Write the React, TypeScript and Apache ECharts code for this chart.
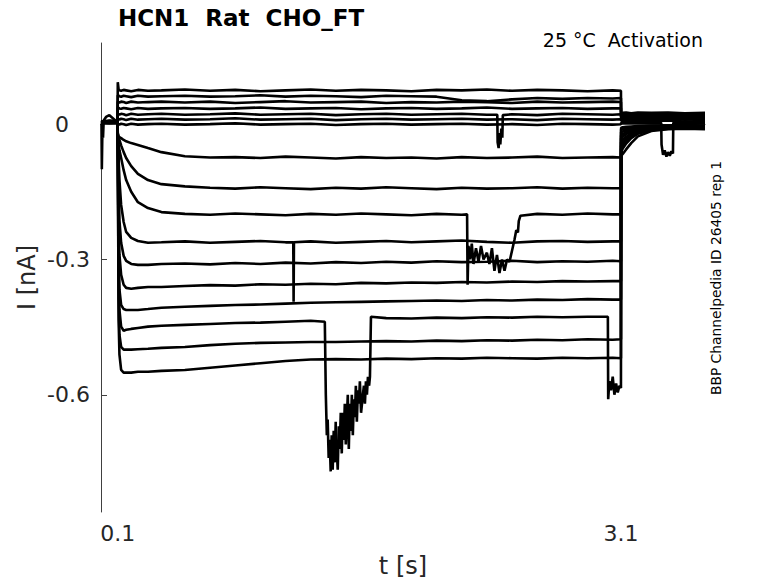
import React, { useEffect, useRef } from "react";
import * as echarts from "echarts";

// shared time grid (s)
const T = [
  0, 0.05, 0.099, 0.1, 0.105, 0.11, 0.12, 0.135, 0.15, 0.18, 0.22, 0.28, 0.36,
  0.5, 0.65, 0.8, 0.95, 1.1, 1.25, 1.4, 1.55, 1.7, 1.85, 2.0, 2.15, 2.3, 2.45,
  2.6, 2.75, 2.9, 3.05, 3.099, 3.1, 3.11, 3.13, 3.16, 3.2, 3.28, 3.38, 3.48, 3.6,
];

// current traces (nA) on the grid T
const P1 = [0.006, 0.008, 0.007,
  0.093, 0.077, 0.075, 0.074, 0.076, 0.075, 0.073, 0.076, 0.074, 0.075,
  0.077, 0.074, 0.076, 0.073, 0.075, 0.077, 0.074, 0.076, 0.075, 0.073, 0.076, 0.075, 0.077, 0.074, 0.076, 0.075, 0.073, 0.075,
  0.074,
  0.026, 0.025, 0.026, 0.024, 0.026, 0.025, 0.026, 0.024, 0.025];
const P2 = [0.004, 0.006, 0.005,
  0.064, 0.063, 0.062, 0.061, 0.063, 0.062, 0.060, 0.063, 0.061, 0.062,
  0.063, 0.061, 0.062, 0.064, 0.061, 0.063, 0.062, 0.060, 0.063, 0.062, 0.061, 0.053, 0.051, 0.055, 0.058, 0.056, 0.058, 0.057,
  0.058,
  0.022, 0.021, 0.022, 0.020, 0.022, 0.021, 0.022, 0.020, 0.021];
const P3 = [0.003, 0.005, 0.004,
  0.050, 0.049, 0.048, 0.050, 0.049, 0.047, 0.050, 0.048, 0.049, 0.050,
  0.048, 0.050, 0.047, 0.049, 0.051, 0.048, 0.049, 0.050, 0.047, 0.049, 0.048, 0.050, 0.049, 0.047, 0.050, 0.048, 0.049, 0.050,
  0.049,
  0.019, 0.018, 0.019, 0.017, 0.019, 0.018, 0.019, 0.017, 0.018];
const P4 = [0.005, 0.003, 0.006,
  0.037, 0.036, 0.035, 0.034, 0.036, 0.035, 0.033, 0.036, 0.034, 0.035,
  0.036, 0.034, 0.035, 0.037, 0.034, 0.035, 0.036, 0.033, 0.035, 0.036, 0.034, 0.035, 0.037, 0.034, 0.035, 0.036, 0.034, 0.035,
  0.035,
  0.016, 0.015, 0.016, 0.014, 0.016, 0.015, 0.016, 0.014, 0.015];
const P5 = [0.004, 0.002, 0.003,
  0.023, 0.022, 0.021, 0.023, 0.022, 0.020, 0.023, 0.021, 0.022, 0.023,
  0.021, 0.022, 0.024, 0.021, 0.022, 0.023, 0.020, 0.022, 0.023, 0.021, 0.022, 0.023, 0.021, 0.022, 0.020, 0.023, 0.022, 0.021,
  0.022,
  0.012, 0.011, 0.012, 0.010, 0.012, 0.011, 0.012, 0.010, 0.011];
const P6 = [0.006, 0.004, 0.005,
  0.012, 0.011, 0.010, 0.012, 0.011, 0.009, 0.012, 0.010, 0.011, 0.012,
  0.010, 0.011, 0.013, 0.010, 0.011, 0.012, 0.009, 0.011, 0.012, 0.010, 0.011, 0.012, 0.010, 0.011, 0.009, 0.012, 0.011, 0.010,
  0.011,
  0.008, 0.007, 0.008, 0.006, 0.008, 0.007, 0.008, 0.006, 0.007];
const P7 = [0.002, 0.02, 0.004,
  0.001, 0.000, -0.001, 0.001, 0.000, -0.002, 0.001, -0.001, 0.000, 0.001,
  -0.001, 0.000, 0.002, -0.001, 0.000, 0.001, -0.002, 0.000, 0.001, -0.001, 0.000, 0.001, -0.001, 0.000, -0.002, 0.001, 0.000, -0.001,
  0.000,
  0.003, 0.003, 0.004, 0.003, 0.004, 0.003, -0.062, 0.004, 0.003];
const N1 = [0.005, 0.007, 0.006,
  -0.020, -0.027, -0.029, -0.031, -0.035, -0.038, -0.042, -0.046, -0.053, -0.062,
  -0.071, -0.074, -0.073, -0.075, -0.072, -0.074, -0.076, -0.073, -0.075, -0.074, -0.076, -0.073, -0.075, -0.074, -0.072, -0.075, -0.074, -0.073,
  -0.074,
  -0.008, -0.007, -0.006, -0.005, -0.004, -0.003, -0.003, -0.002, -0.003];
const N2 = [0.003, 0.006, 0.004,
  -0.022, -0.030, -0.035, -0.047, -0.062, -0.075, -0.093, -0.110, -0.124, -0.133,
  -0.138, -0.141, -0.143, -0.140, -0.142, -0.144, -0.141, -0.143, -0.140, -0.142, -0.144, -0.141, -0.143, -0.142, -0.140, -0.143, -0.141, -0.142,
  -0.142,
  -0.012, -0.011, -0.009, -0.007, -0.005, -0.004, -0.003, -0.003, -0.004];
const N3 = [0.004, 0.005, 0.003,
  -0.025, -0.045, -0.058, -0.075, -0.102, -0.124, -0.150, -0.173, -0.186, -0.195,
  -0.199, -0.201, -0.198, -0.200, -0.202, -0.199, -0.201, -0.198, -0.200, -0.202, -0.199, -0.201, -0.285, -0.280, -0.199, -0.201, -0.198, -0.200,
  -0.200,
  -0.018, -0.016, -0.013, -0.010, -0.007, -0.005, -0.004, -0.003, -0.004];
const N4 = [0.006, 0.004, 0.005,
  -0.027, -0.075, -0.124, -0.179, -0.217, -0.239, -0.252, -0.259, -0.263, -0.262,
  -0.260, -0.263, -0.261, -0.259, -0.262, -0.260, -0.263, -0.261, -0.259, -0.262, -0.260, -0.258, -0.261, -0.263, -0.260, -0.259, -0.261, -0.260,
  -0.260,
  -0.025, -0.022, -0.017, -0.013, -0.009, -0.006, -0.005, -0.004, -0.005];
const N5 = [0.003, 0.004, 0.006,
  -0.030, -0.137, -0.213, -0.263, -0.292, -0.303, -0.310, -0.312, -0.312, -0.310,
  -0.309, -0.311, -0.308, -0.310, -0.307, -0.309, -0.306, -0.308, -0.305, -0.307, -0.304, -0.306, -0.305, -0.303, -0.306, -0.304, -0.305, -0.303,
  -0.304,
  -0.032, -0.028, -0.022, -0.016, -0.011, -0.008, -0.006, -0.005, -0.006];
const N6 = [0.005, 0.003, 0.004,
  -0.032, -0.213, -0.290, -0.334, -0.356, -0.363, -0.365, -0.363, -0.361, -0.361,
  -0.359, -0.357, -0.358, -0.355, -0.356, -0.354, -0.355, -0.352, -0.353, -0.351, -0.352, -0.350, -0.351, -0.349, -0.350, -0.348, -0.349, -0.348,
  -0.348,
  -0.040, -0.035, -0.028, -0.020, -0.014, -0.009, -0.007, -0.006, -0.007];
const N7 = [0.004, 0.006, 0.005,
  -0.035, -0.279, -0.367, -0.401, -0.410, -0.412, -0.412, -0.412, -0.410, -0.407,
  -0.405, -0.403, -0.401, -0.400, -0.398, -0.396, -0.395, -0.394, -0.393, -0.392, -0.391, -0.392, -0.390, -0.391, -0.389, -0.390, -0.388, -0.389,
  -0.389,
  -0.048, -0.042, -0.033, -0.024, -0.017, -0.011, -0.008, -0.007, -0.008];
const N8 = [0.006, 0.005, 0.004,
  -0.035, -0.323, -0.412, -0.449, -0.458, -0.456, -0.454, -0.452, -0.449, -0.447,
  -0.445, -0.443, -0.441, -0.440, -0.438, -0.436, -0.740, -0.640, -0.430, -0.431, -0.429, -0.430, -0.428, -0.429, -0.427, -0.428, -0.427, -0.560,
  -0.585,
  -0.055, -0.048, -0.038, -0.028, -0.019, -0.012, -0.009, -0.008, -0.009];
const N9 = [0.003, 0.005, 0.004,
  -0.037, -0.390, -0.467, -0.494, -0.500, -0.500, -0.500, -0.499, -0.498, -0.496,
  -0.494, -0.490, -0.487, -0.485, -0.484, -0.483, -0.483, -0.482, -0.481, -0.482, -0.480, -0.481, -0.479, -0.480, -0.478, -0.479, -0.477, -0.478,
  -0.477,
  -0.062, -0.054, -0.043, -0.031, -0.021, -0.013, -0.010, -0.009, -0.010];
const N10 = [0.005, 0.004, 0.006,
  -0.040, -0.434, -0.511, -0.545, -0.551, -0.551, -0.551, -0.549, -0.549, -0.547,
  -0.545, -0.540, -0.535, -0.530, -0.525, -0.522, -0.521, -0.522, -0.520, -0.521, -0.519, -0.520, -0.518, -0.519, -0.520, -0.518, -0.519, -0.518,
  -0.519,
  -0.070, -0.066, -0.056, -0.042, -0.027, -0.015, -0.011, -0.010, -0.011];

// artefacts (t s, I nA) inserted into traces
const P5_glitch = [[2.362, 0.021], [2.364, -0.04], [2.37, -0.053], [2.375, -0.02], [2.38, -0.045], [2.386, -0.01], [2.392, -0.03], [2.395, 0.02]];
const P7_glitch = [[0.003, 0.0], [0.005, -0.1], [0.008, -0.02], [0.012, -0.03], [0.016, 0.008], [0.03, 0.016],
  [3.339, 0.003], [3.341, -0.045], [3.35, -0.068], [3.36, -0.058], [3.37, -0.072], [3.39, -0.07], [3.4, -0.06], [3.409, -0.065], [3.411, 0.003]];
const N3_glitch = [[2.182, -0.2], [2.185, -0.356], [2.19, -0.27], [2.2, -0.3], [2.21, -0.265], [2.22, -0.31], [2.235, -0.275], [2.25, -0.305],
  [2.265, -0.27], [2.28, -0.3], [2.315, -0.31], [2.33, -0.275], [2.345, -0.325], [2.36, -0.29], [2.375, -0.33], [2.39, -0.3], [2.405, -0.325],
  [2.42, -0.3], [2.435, -0.305], [2.465, -0.255], [2.475, -0.235], [2.485, -0.24], [2.49, -0.215], [2.5, -0.203]];
const N4_glitch = [[1.146, -0.262], [1.148, -0.394], [1.15, -0.262]];
const N8_glitch = [[1.334, -0.438], [1.34, -0.6], [1.346, -0.69], [1.351, -0.655], [1.357, -0.74], [1.363, -0.7], [1.369, -0.77],
  [1.375, -0.69], [1.381, -0.766], [1.387, -0.68], [1.393, -0.75], [1.399, -0.66],
  [1.405, -0.72], [1.411, -0.766], [1.417, -0.67], [1.423, -0.72], [1.429, -0.64], [1.435, -0.73], [1.441, -0.64], [1.447, -0.7],
  [1.453, -0.62], [1.459, -0.71], [1.465, -0.655], [1.471, -0.6], [1.477, -0.72], [1.483, -0.62],
  [1.489, -0.68], [1.495, -0.6], [1.501, -0.69], [1.507, -0.61], [1.513, -0.65], [1.519, -0.58], [1.525, -0.66], [1.531, -0.59],
  [1.537, -0.62], [1.543, -0.57], [1.561, -0.6], [1.567, -0.58], [1.573, -0.62], [1.579, -0.57],
  [1.585, -0.6], [1.591, -0.56], [1.598, -0.58], [1.603, -0.56], [1.609, -0.427],
  [3.021, -0.427], [3.023, -0.61], [3.03, -0.57], [3.04, -0.59], [3.06, -0.6], [3.07, -0.575], [3.08, -0.595], [3.09, -0.58]];

const TRACES: [number[], number[][]][] = [
  [P1, []], [P2, []], [P3, []], [P4, []], [P5, P5_glitch], [P6, []], [P7, P7_glitch],
  [N1, []], [N2, []], [N3, N3_glitch], [N4, N4_glitch], [N5, []], [N6, []], [N7, []], [N8, N8_glitch], [N9, []], [N10, []],
];

const X_TICKS = [0.1, 3.1];
const Y_TICKS = [-0.6, -0.3, 0];

function buildTrace(vals: number[], extra: number[][]) {
  const pts = T.map((t, i) => [t, vals[i]]).concat(extra.map((p) => [p[0], p[1]]));
  pts.sort((a, b) => a[0] - b[0]);
  return pts;
}

export default function App() {
  const ref = useRef<HTMLDivElement>(null);
  useEffect(() => {
    if (!ref.current) return;
    const chart = echarts.init(ref.current, null, { renderer: "svg" });
    const axisColor = "#404040";
    const font = "DejaVu Sans";
    chart.setOption({
      animation: false,
      backgroundColor: "#ffffff",
      grid: { left: 101, right: 73, top: 43, bottom: 71, containLabel: false, outerBoundsMode: "none" },
      xAxis: {
        type: "value",
        min: 0,
        max: 3.6,
        name: "t [s]",
        nameLocation: "middle",
        nameGap: 42,
        nameMoveOverlap: false,
        nameTextStyle: { fontSize: 24, color: "#262626", fontFamily: font },
        axisLine: { show: true, lineStyle: { color: axisColor, width: 1 } },
        axisTick: { show: true, inside: true, length: 6, customValues: X_TICKS, lineStyle: { color: axisColor } },
        axisLabel: { customValues: X_TICKS, fontSize: 22, color: "#262626", fontFamily: font, margin: 10, formatter: (v: number) => String(v) },
        splitLine: { show: false },
      },
      yAxis: {
        type: "value",
        min: -0.86,
        max: 0.18,
        name: "I [nA]",
        nameLocation: "middle",
        nameGap: 62,
        nameRotate: 90,
        nameMoveOverlap: false,
        nameTextStyle: { fontSize: 24, color: "#262626", fontFamily: font },
        axisLine: { show: true, onZero: false, lineStyle: { color: axisColor, width: 1 } },
        axisTick: { show: true, inside: true, length: 6, customValues: Y_TICKS, lineStyle: { color: axisColor } },
        axisLabel: {
          customValues: Y_TICKS,
          fontSize: 22,
          color: "#262626",
          fontFamily: font,
          align: "left",
          margin: 54,
          formatter: (v: number) => (v === 0 ? "{z|0}" : v.toFixed(1)),
          rich: { z: { fontSize: 22, color: "#262626", fontFamily: font, padding: [0, 0, 0, 8] } },
        },
        splitLine: { show: false },
      },
      graphic: [
        { type: "text", x: 241, y: 18, style: { text: "HCN1  Rat  CHO_FT", fontSize: 23, fontWeight: "bold", fontFamily: font, fill: "#000", textAlign: "center", textVerticalAlign: "middle" } },
        { type: "text", x: 703, y: 40, style: { text: "25 °C  Activation", fontSize: 19, fontFamily: font, fill: "#000", textAlign: "right", textVerticalAlign: "middle" } },
        { type: "text", x: 716, y: 278, rotation: Math.PI / 2, style: { text: "BBP Channelpedia ID 26405 rep 1", fontSize: 13.8, fontFamily: font, fill: "#000", textAlign: "center", textVerticalAlign: "middle" } },
      ],
      series: TRACES.map(([vals, extra], i) => ({
        type: "line",
        name: "trace" + i,
        data: buildTrace(vals, extra),
        showSymbol: false,
        symbol: "none",
        silent: true,
        clip: true,
        lineStyle: { color: "#000", width: 2.6 },
      })),
    });
    return () => chart.dispose();
  }, []);
  return <div ref={ref} style={{ position: "fixed", left: 0, top: 0, width: 778, height: 583 }} />;
}
